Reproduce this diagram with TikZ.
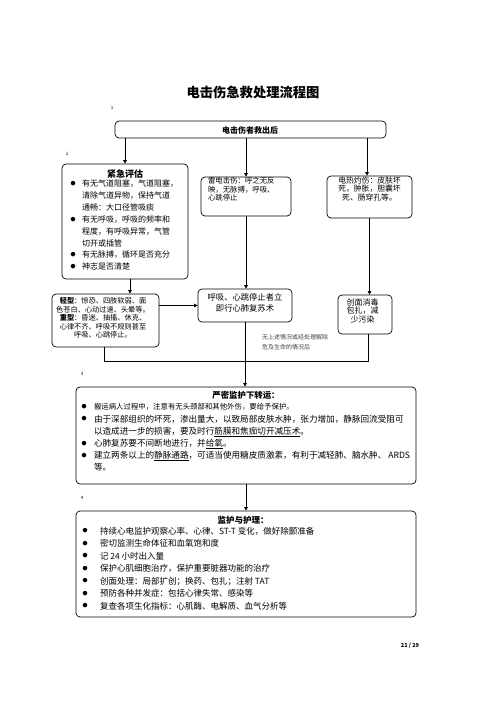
\documentclass[tikz,border=0pt]{standalone}
\usepackage{fontspec}
\setmainfont{Noto Sans CJK SC}
\usetikzlibrary{arrows.meta}
\newcommand\fs[2]{\fontsize{#1bp}{#2bp}\selectfont}
\newcommand\bul[1]{\makebox[#1][l]{\raisebox{1.1bp}{\fs{5}{5}●}}}
\tikzset{
 box/.style={draw, line width=0.7bp, rounded corners=4bp, inner sep=0pt},
 arr/.style={line width=0.7bp, -{Triangle[length=3.5bp,width=3.5bp]}},
 ln/.style={line width=0.7bp},
 txt/.style={inner sep=0pt, outer sep=0pt},
 num/.style={txt, font={\fs{4.5}{4.5}}},
}
\begin{document}
\begin{tikzpicture}[x=1bp,y=-1bp]
\useasboundingbox (0,0) rectangle (496,702);

% title and numbers
\node[txt, font={\fs{13.3}{14}\bfseries}] (title) at (253,92) {电击伤急救处理流程图};
\node[num] (n1) at (112,108) {1};
\node[num] (n2) at (67,154) {2};
\node[num] (n3) at (82,374) {3};
\node[num] (n4) at (82,498) {4};
\node[txt, font={\fs{5.5}{6}\bfseries}] (page) at (410,646) {21 / 29};

% boxes
\node[box, minimum width=271bp, minimum height=17bp] (top) at (250.5,129.5) {};
\node[box, minimum width=126bp, minimum height=115bp] (eval) at (125,221.5) {};
\node[box, minimum width=90bp, minimum height=39bp] (mid1) at (246,196.5) {};
\node[box, minimum width=85bp, minimum height=42bp] (right1) at (369.5,197) {};
\node[box, minimum width=107bp, minimum height=53bp] (qing) at (105.5,320.5) {};
\node[box, minimum width=94bp, minimum height=33bp] (cpr) at (245,305.5) {};
\node[box, minimum width=54bp, minimum height=39bp] (right2) at (365,314.5) {};
\node[box, minimum width=340bp, minimum height=97bp] (box3) at (246,435.5) {};
\node[box, minimum width=340bp, minimum height=106bp] (box4) at (246,564) {};

% texts
\node[txt, font={\fs{8}{9}\bfseries}] (toptext) at (250,130) {电击伤者救出后};

\node[txt, font={\fs{9}{10}\bfseries}] (evaltitle) at (125,174) {紧急评估};
\node[txt, anchor=north west, align=left, font={\fs{8}{11.85}}] (evaltext) at (70.5,180)
 {\bul{11.5bp}有无气道阻塞，气道阻塞，\\
  \hspace*{11.5bp}清除气道异物，保持气道\\
  \hspace*{11.5bp}通畅：大口径管吸痰\\
  \bul{11.5bp}有无呼吸，呼吸的频率和\\
  \hspace*{11.5bp}程度，有呼吸异常，气管\\
  \hspace*{11.5bp}切开或插管\\
  \bul{11.5bp}有无脉搏，循环是否充分\\
  \bul{11.5bp}神志是否清楚};

\node[txt, anchor=north west, align=left, font={\fs{7.4}{8.5}}] (mid1text) at (208,177.3)
 {雷电击伤：呼之无反\\映，无脉搏，呼吸、\\心跳停止};

\node[txt, anchor=north, align=center, font={\fs{7.8}{8.2}}] (right1text) at (369.5,177.2)
 {电热灼伤：皮肤坏\\死，肿胀，胆囊坏\\死、肠穿孔等。};

\node[txt, anchor=north, align=center, font={\fs{7.2}{8.5}}] (qingtext) at (103,297.4)
 {\textbf{轻型}：惊恐、四肢软弱、面\\色苍白、心动过速、头晕等。\\\textbf{重型}：昏迷、抽搐、休克、\\心律不齐、呼吸不规则甚至\\呼吸、心跳停止。};

\node[txt, anchor=north, align=center, font={\fs{8.3}{11}}] (cprtext) at (245,293.9)
 {呼吸、心跳停止者立\\即行心肺复苏术};

\node[txt, anchor=north, align=center, font={\fs{8}{8.2}}] (right2text) at (362.5,299)
 {创面消毒\\包扎，减\\少污染};

\node[txt, anchor=north west, align=left, font={\fs{6}{10}}, text=black!75] (note) at (262,334)
 {无上述情况或经处理解除\\危及生命的情况后};

\node[txt, font={\fs{8.4}{9}\bfseries}] (box3title) at (246,395) {严密监护下转运：};
\node[txt, anchor=north west, align=left, font={\fs{8.6}{12.1}}] (box3text) at (81.5,403.7)
 {\bul{12.5bp}{\fs{7.4}{12.1}搬运病人过程中，注意有无头颈部和其他外伤，要给予保护。}\\
  \bul{12.5bp}由于深部组织的坏死，渗出量大，以致局部皮肤水肿，张力增加，静脉回流受阻可\\
  \hspace*{12.5bp}以造成进一步的损害，要及时行\underline{筋膜和焦痂切开减压术}。\\
  \bul{12.5bp}心肺复苏要不间断地进行，并\underline{给氧}。\\
  \bul{12.5bp}建立两条以上的\underline{静脉通路}，可适当使用糖皮质激素，有利于减轻肺、脑水肿、 ARDS\\
  \hspace*{12.5bp}等。};

\node[txt, font={\fs{8.5}{9}\bfseries}] (box4title) at (243,520) {监护与护理：};
\node[txt, anchor=north west, align=left, font={\fs{8.5}{12.5}}] (box4text) at (82.5,526.8)
 {\bul{17.5bp}持续心电监护观察心率、心律、ST-T 变化，做好除颤准备\\
  \bul{17.5bp}密切监测生命体征和血氧饱和度\\
  \bul{17.5bp}记 24 小时出入量\\
  \bul{17.5bp}保护心肌细胞治疗，保护重要脏器功能的治疗\\
  \bul{17.5bp}创面处理：局部扩创；换药、包扎；注射 TAT\\
  \bul{17.5bp}预防各种并发症：包括心律失常、感染等\\
  \bul{17.5bp}复查各项生化指标：心肌酶、电解质、血气分析等};

% connectors
\draw[arr] (eval.north |- top.south) -- (eval.north);
\draw[arr] (mid1.north |- top.south) -- (mid1.north);
\coordinate (r0) at ([xshift=-2.5bp]right1.north);
\draw[arr] (r0 |- top.south) -- (r0);
\coordinate (e1) at ([xshift=5bp]eval.south);
\draw[arr] (e1) -- (e1 |- qing.north);
\draw[arr] (qing.east |- cpr.west) -- (cpr.west);
\draw[arr] (mid1.south) -- (mid1.south |- cpr.north);
\draw[arr] (right1.south) -- (right1.south |- right2.north);
\coordinate (join) at (247,361);
\coordinate (q1) at ([xshift=-1.5bp]qing.south);
\coordinate (r1) at ([xshift=3bp]right2.south);
\draw[ln] (q1) |- (join);
\draw[ln] (r1) |- (join);
\draw[arr] (cpr.south) -- (cpr.south |- box3.north);
\draw[arr] (box3.south) -- (box4.north);
\end{tikzpicture}
\end{document}
